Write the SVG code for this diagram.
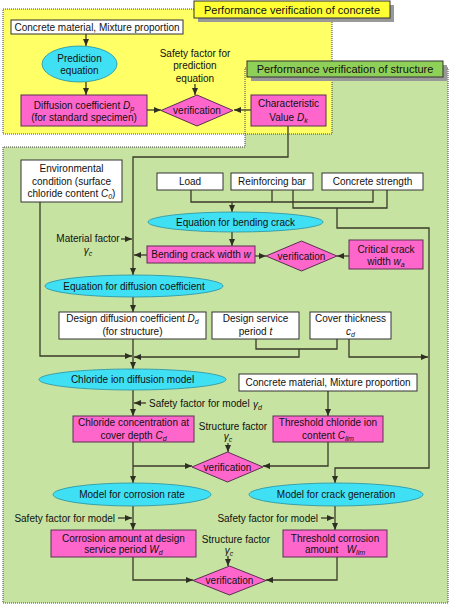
<svg xmlns="http://www.w3.org/2000/svg" width="453" height="608" viewBox="0 0 453 608">
<defs>
<marker id="ah" viewBox="0 0 7 6" refX="7" refY="3" markerWidth="7" markerHeight="6" orient="auto" markerUnits="userSpaceOnUse"><path d="M0,0 L7,3 L0,6 z" fill="#2e2e22"/></marker>
</defs>
<style>
text{font-family:"Liberation Sans",Arial,sans-serif;font-size:10px;fill:#111;text-anchor:middle}
.t{font-size:11px}
.wb{fill:#fff;stroke:#333;stroke-width:1}
.mg{fill:#ff66cc;stroke:#5a3050;stroke-width:1}
.el{fill:#40e0f4;stroke:#2a8fa0;stroke-width:0.8}
.cn{fill:none;stroke:#3a3a2a;stroke-width:1.3}
.ar{marker-end:url(#ah)}
.i{font-style:italic}
.s{font-size:7px;font-style:italic}
.l{text-anchor:start}
.r{text-anchor:end}
</style>
<rect x="0" y="0" width="453" height="608" fill="#fff"/>
<g id="regions">
<path d="M245,68 H448 V603 H3 V147 H245 Z" fill="#c6e3a2"/>
<rect x="3" y="9" width="329" height="125" fill="#ffff66"/>
<path d="M245,68 H448 V603 H3 V147 H245 Z" fill="none" stroke="#444" stroke-width="1" stroke-dasharray="1,1"/>
<rect x="3" y="9" width="329" height="125" fill="none" stroke="#444" stroke-width="1" stroke-dasharray="1,1"/>
</g>
<g id="title-concrete">
<rect x="198" y="5" width="196" height="17" fill="#999"/>
<rect x="194" y="1" width="196" height="17" fill="#ffff33" stroke="#333"/>
<text class="t" x="292" y="13.5">Performance verification of concrete</text>
</g>
<g id="title-structure">
<rect x="251" y="65" width="196" height="16" fill="#999"/>
<rect x="247" y="61" width="196" height="16" fill="#8fd058" stroke="#333"/>
<text class="t" x="345" y="73">Performance verification of structure</text>
</g>
<g id="connectors">
<path class="cn ar" d="M86,34 V46"/>
<path class="cn ar" d="M86,82 V95"/>
<path class="cn ar" d="M147,110 H161"/>
<path class="cn ar" d="M195,84 V95"/>
<path class="cn ar" d="M251,110 H234"/>
<path class="cn ar" d="M288,126 V157 H133 V275"/>
<path class="cn ar" d="M121,239 H132"/>
<path class="cn ar" d="M147,255 H134"/>
<path class="cn" d="M191,190 V202 H373 V190 M272,190 V202"/>
<path class="cn ar" d="M232,202 V212"/>
<path class="cn" d="M293,190 V208 H387 V190"/>
<path class="cn ar" d="M337,208 V228 H429 V468 H335 V483"/>
<path class="cn ar" d="M232,232 V246"/>
<path class="cn ar" d="M255,256 H266"/>
<path class="cn ar" d="M349,256 H337"/>
<path class="cn ar" d="M133,297 V312"/>
<path class="cn ar" d="M40,202 V356 H132"/>
<path class="cn" d="M256,339 V349 H337 V339"/>
<path class="cn ar" d="M299,349 V357 H134"/>
<path class="cn ar" d="M133,339 V369"/>
<path class="cn ar" d="M349,339 V357 H428"/>
<path class="cn ar" d="M146,403 H134"/>
<path class="cn ar" d="M133,390 V416"/>
<path class="cn ar" d="M328,391 V416"/>
<path class="cn ar" d="M228,443 V452"/>
<path class="cn ar" d="M133,442 V483"/>
<path class="cn ar" d="M133,466 H192"/>
<path class="cn ar" d="M328,442 V466 H263"/>
<path class="cn ar" d="M118,518 H132"/>
<path class="cn ar" d="M133,506 V530"/>
<path class="cn ar" d="M321,518 H334"/>
<path class="cn ar" d="M335,506 V530"/>
<path class="cn ar" d="M228,556 V566"/>
<path class="cn ar" d="M133,557 V580 H193"/>
<path class="cn ar" d="M337,557 V580 H266"/>
</g>
<g id="n-concrete-material">
<rect class="wb" x="11" y="20" width="172" height="14"/>
<text x="97" y="30.5">Concrete material, Mixture proportion</text>
</g>
<g id="n-prediction-equation">
<ellipse class="el" cx="79.5" cy="64" rx="37.5" ry="18"/>
<text x="79.5" y="61.5">Prediction</text>
<text x="79.5" y="73.5">equation</text>
</g>
<g id="n-diffusion-dp">
<rect class="mg" x="21" y="95" width="126" height="31"/>
<text x="84" y="108.5">Diffusion coefficient <tspan class="i">D</tspan><tspan class="s" dy="2">p</tspan></text>
<text x="84" y="120.5">(for standard specimen)</text>
</g>
<g id="n-safety-prediction">
<text x="195" y="56.5">Safety factor for</text>
<text x="195" y="69">prediction</text>
<text x="195" y="81.5">equation</text>
</g>
<g id="n-verification-1">
<polygon class="mg" points="161,110.5 197,95 233,110.5 197,126"/>
<text x="197" y="114">verification</text>
</g>
<g id="n-characteristic">
<rect class="mg" x="251" y="95" width="75" height="31"/>
<text x="288.5" y="107">Characteristic</text>
<text x="288.5" y="121">Value <tspan class="i">D</tspan><tspan class="s" dy="2">k</tspan></text>
</g>
<g id="n-environmental">
<rect class="wb" x="21" y="160" width="101" height="42"/>
<text x="71.5" y="171.5">Environmental</text>
<text x="71.5" y="184.5">condition (surface</text>
<text x="71.5" y="196.5">chloride content <tspan class="i">C</tspan><tspan class="s" dy="2">0</tspan><tspan dy="-2">)</tspan></text>
</g>
<g id="n-load">
<rect class="wb" x="157" y="173" width="66" height="17"/>
<text x="190" y="185">Load</text>
</g>
<g id="n-reinforcing-bar">
<rect class="wb" x="231" y="173" width="82" height="17"/>
<text x="272" y="185">Reinforcing bar</text>
</g>
<g id="n-concrete-strength">
<rect class="wb" x="322" y="173" width="101" height="17"/>
<text x="372.5" y="185">Concrete strength</text>
</g>
<g id="n-eq-bending">
<ellipse class="el" cx="235.5" cy="222" rx="87.5" ry="10"/>
<text x="235.5" y="225.5">Equation for bending crack</text>
</g>
<g id="n-material-factor">
<text x="88" y="241.5">Material factor</text>
<text x="88" y="254" class="i">γ<tspan class="s" dy="1.5">c</tspan></text>
</g>
<g id="n-bending-width">
<rect class="mg" x="147" y="246" width="108" height="17"/>
<text x="201" y="258">Bending crack width <tspan class="i">w</tspan></text>
</g>
<g id="n-verification-2">
<polygon class="mg" points="266,256 301.5,241 337,256 301.5,271"/>
<text x="301.5" y="259.5">verification</text>
</g>
<g id="n-critical">
<rect class="mg" x="349" y="240" width="74" height="29"/>
<text x="386" y="252.5">Critical crack</text>
<text x="386" y="264.5">width <tspan class="i">w</tspan><tspan class="s" dy="2">a</tspan></text>
</g>
<g id="n-eq-diffusion">
<ellipse class="el" cx="134" cy="286" rx="89" ry="11"/>
<text x="134" y="289.5">Equation for diffusion coefficient</text>
</g>
<g id="n-design-diffusion">
<rect class="wb" x="59" y="312" width="147" height="27"/>
<text x="132.5" y="321.5">Design diffusion coefficient <tspan class="i">D</tspan><tspan class="s" dy="2">d</tspan></text>
<text x="132.5" y="334.5">(for structure)</text>
</g>
<g id="n-service-period">
<rect class="wb" x="212" y="312" width="87" height="27"/>
<text x="255.5" y="321.5">Design service</text>
<text x="255.5" y="334.5">period <tspan class="i">t</tspan></text>
</g>
<g id="n-cover">
<rect class="wb" x="310" y="312" width="81" height="27"/>
<text x="350.5" y="321.5">Cover thickness</text>
<text x="350.5" y="335" class="i">c<tspan class="s" dy="2">d</tspan></text>
</g>
<g id="n-chloride-model">
<ellipse class="el" cx="132.5" cy="379.5" rx="93.5" ry="10.5"/>
<text x="132.5" y="383">Chloride ion diffusion model</text>
</g>
<g id="n-concrete-material-2">
<rect class="wb" x="239" y="374" width="178" height="17"/>
<text x="328" y="386">Concrete material, Mixture proportion</text>
</g>
<g id="n-safety-model-1">
<text class="l" x="149" y="407">Safety factor for model</text>
<text class="l i" x="253" y="408">γ<tspan class="s" dy="1.5">d</tspan></text>
</g>
<g id="n-chloride-conc">
<rect class="mg" x="73" y="416" width="121" height="26"/>
<text x="133.5" y="425.5">Chloride concentration at</text>
<text x="133.5" y="438.5">cover depth <tspan class="i">C</tspan><tspan class="s" dy="2">d</tspan></text>
</g>
<g id="n-threshold-chloride">
<rect class="mg" x="273" y="416" width="110" height="26"/>
<text x="328" y="425.5">Threshold chloride ion</text>
<text x="328" y="438.5">content <tspan class="i">C</tspan><tspan class="s" dy="2">lim</tspan></text>
</g>
<g id="n-structure-factor-1">
<text x="233" y="429.5">Structure factor</text>
<text x="228" y="440" class="i">γ<tspan class="s" dy="1.5">c</tspan></text>
</g>
<g id="n-verification-3">
<polygon class="mg" points="192,467 227.5,452 263,467 227.5,482"/>
<text x="227.5" y="470.5">verification</text>
</g>
<g id="n-corrosion-rate">
<ellipse class="el" cx="132" cy="494.5" rx="79" ry="11.5"/>
<text x="132" y="498">Model for corrosion rate</text>
</g>
<g id="n-crack-generation">
<ellipse class="el" cx="336" cy="494.5" rx="87" ry="11.5"/>
<text x="336" y="498">Model for crack generation</text>
</g>
<g id="n-safety-model-2">
<text class="r" x="115" y="521.5">Safety factor for model</text>
</g>
<g id="n-safety-model-3">
<text class="r" x="318" y="521.5">Safety factor for model</text>
</g>
<g id="n-corrosion-amount">
<rect class="mg" x="51" y="530" width="145" height="27"/>
<text x="123.5" y="541.5">Corrosion amount at design</text>
<text x="123.5" y="552.5">service period <tspan class="i">W</tspan><tspan class="s" dy="2">d</tspan></text>
</g>
<g id="n-threshold-corrosion">
<rect class="mg" x="283" y="530" width="104" height="27"/>
<text x="335" y="541.5">Threshold corrosion</text>
<text x="335" y="552.5" xml:space="preserve">amount   <tspan class="i">W</tspan><tspan class="s" dy="2">lim</tspan></text>
</g>
<g id="n-structure-factor-2">
<text x="236" y="542.5">Structure factor</text>
<text x="229" y="554" class="i">γ<tspan class="s" dy="1.5">c</tspan></text>
</g>
<g id="n-verification-4">
<polygon class="mg" points="193,580.5 229.5,566 266,580.5 229.5,595"/>
<text x="229.5" y="584">verification</text>
</g>
</svg>
